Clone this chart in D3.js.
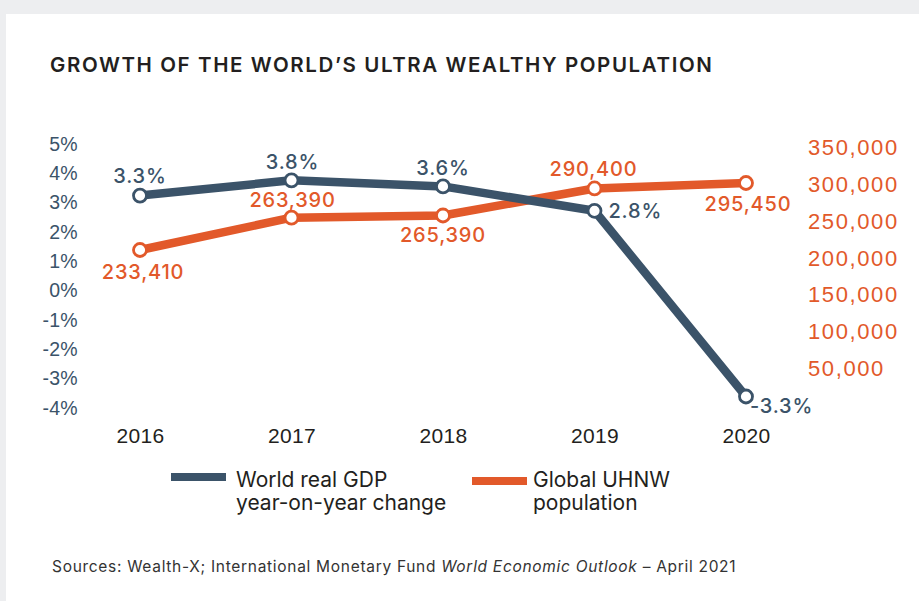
<!DOCTYPE html>
<html>
<head>
<meta charset="utf-8">
<script src="https://cdn.jsdelivr.net/npm/d3@7"></script>
<style>
  body { margin: 0; background: #edeef0; }
  svg { display: block; font-family: Inter, "Noto Sans", sans-serif; }
  .axis path, .axis line { display: none; }
</style>
</head>
<body>
<div id="chart"></div>
<script>
var svgWidth = 919;
var svgHeight = 601;

// data
var years = ["2016", "2017", "2018", "2019", "2020"];
var gdpGrowth = [3.3, 3.8, 3.6, 2.8, -3.3];
var uhnwPopulation = [233410, 263390, 265390, 290400, 295450];
var gdpTicks = [5, 4, 3, 2, 1, 0, -1, -2, -3, -4];
var uhnwTicks = [50000, 100000, 150000, 200000, 250000, 300000, 350000];
var legendNames = [["World real GDP", "year-on-year change"], ["Global UHNW", "population"]];

var slate = "#3b5369";
var orange = "#e2592a";
var ink = "#231f20";

var svg = d3.select("#chart")
    .append("svg")
    .attr("width", svgWidth)
    .attr("height", svgHeight);

svg.append("rect")
    .attr("width", svgWidth).attr("height", svgHeight)
    .attr("fill", "#edeef0");
svg.append("rect")
    .attr("x", 6).attr("y", 14)
    .attr("width", svgWidth - 6).attr("height", svgHeight - 14)
    .attr("fill", "#fff");

svg.append("text")
    .attr("x", 50).attr("y", 65)
    .attr("dy", "0.36em")
    .attr("fill", ink)
    .style("font-size", "20.5px")
    .style("font-weight", 600)
    .style("letter-spacing", "1.6px")
    .text("GROWTH OF THE WORLD\u2019S ULTRA WEALTHY POPULATION");

var x = d3.scalePoint().domain(years).range([140, 746]);

// the axes' tick labels and the plotted lines use slightly different spacing in the original
var yGdpAxis = d3.scaleLinear().domain([-4, 5]).range([407, 143]);
var yUhnwAxis = d3.scaleLinear().domain([0, 350000]).range([404, 147]);
var yGdp = d3.scaleLinear().domain([-4, 5]).range([417.8, 143.8]);
var yUhnw = d3.scaleLinear().domain([200000, 300000]).range([286.1, 178.1]);

var leftAxis = svg.append("g")
    .attr("class", "axis")
    .attr("transform", "translate(78,0)")
    .call(d3.axisLeft(yGdpAxis).tickValues(gdpTicks).tickSize(0).tickPadding(0)
        .tickFormat(d => d + "%"));
leftAxis.selectAll("text")
    .attr("dy", "0.36em")
    .attr("fill", slate)
    .style("font-size", "19.5px")
    .style("font-weight", 300)
    .style("letter-spacing", "0.3px");

var rightAxis = svg.append("g")
    .attr("class", "axis")
    .attr("transform", "translate(808,0)")
    .call(d3.axisRight(yUhnwAxis).tickValues(uhnwTicks).tickSize(0).tickPadding(0)
        .tickFormat(d3.format(",")));
rightAxis.selectAll("text")
    .attr("dy", "0.36em")
    .attr("fill", orange)
    .style("font-size", "22px")
    .style("font-weight", 300)
    .style("letter-spacing", "1.6px");

var bottomAxis = svg.append("g")
    .attr("class", "axis")
    .attr("transform", "translate(0,435)")
    .call(d3.axisBottom(x).tickSize(0).tickPadding(0));
bottomAxis.selectAll("text")
    .attr("y", 0)
    .attr("dy", "0.36em")
    .attr("fill", ink)
    .style("font-size", "21px")
    .style("letter-spacing", "0.3px");

var gdpData = years.map((yr, i) => ({ year: yr, value: gdpGrowth[i] }));
var uhnwData = years.map((yr, i) => ({ year: yr, value: uhnwPopulation[i] }));

function drawSeries(data, yScale, color) {
    var line = d3.line()
        .x(d => x(d.year))
        .y(d => yScale(d.value));
    svg.append("path")
        .datum(data)
        .attr("d", line)
        .attr("fill", "none")
        .attr("stroke", color)
        .attr("stroke-width", 8.5)
        .attr("stroke-linejoin", "round");
    svg.selectAll(null)
        .data(data)
        .enter()
        .append("circle")
        .attr("cx", d => x(d.year))
        .attr("cy", d => yScale(d.value))
        .attr("r", 6.5)
        .attr("fill", "#fff")
        .attr("stroke", color)
        .attr("stroke-width", 2.8);
}

drawSeries(uhnwData, yUhnw, orange);
drawSeries(gdpData, yGdp, slate);

// label placement relative to each point
var gdpPlace = [
    { dx: 0, dy: -20, anchor: "middle" },
    { dx: 1, dy: -19, anchor: "middle" },
    { dx: 0, dy: -19, anchor: "middle" },
    { dx: 14, dy: 0, anchor: "start" },
    { dx: 4, dy: 9, anchor: "start" }
];
var uhnwPlace = [
    { dx: 3, dy: 22, anchor: "middle" },
    { dx: 1, dy: -18, anchor: "middle" },
    { dx: 0, dy: 19, anchor: "middle" },
    { dx: -1, dy: -20, anchor: "middle" },
    { dx: 2, dy: 21, anchor: "middle" }
];

var labelStyle = function (sel) {
    sel.attr("dy", "0.36em")
        .style("font-size", "20px")
        .style("font-weight", 500)
        .style("letter-spacing", "0.8px");
};

svg.selectAll(null)
    .data(gdpData)
    .enter()
    .append("text")
    .attr("x", (d, i) => x(d.year) + gdpPlace[i].dx)
    .attr("y", (d, i) => yGdp(d.value) + gdpPlace[i].dy)
    .attr("text-anchor", (d, i) => gdpPlace[i].anchor)
    .attr("fill", slate)
    .call(labelStyle)
    .text(d => d.value.toFixed(1) + "%");

svg.selectAll(null)
    .data(uhnwData)
    .enter()
    .append("text")
    .attr("x", (d, i) => x(d.year) + uhnwPlace[i].dx)
    .attr("y", (d, i) => yUhnw(d.value) + uhnwPlace[i].dy)
    .attr("text-anchor", (d, i) => uhnwPlace[i].anchor)
    .attr("fill", orange)
    .call(labelStyle)
    .text(d => d3.format(",")(d.value));

// legend
var legendItems = [
    { x: 171, y: 477, tx: 236, color: slate, names: legendNames[0] },
    { x: 472, y: 481, tx: 533, color: orange, names: legendNames[1] }
];
var legend = svg.selectAll("g.legend")
    .data(legendItems)
    .enter()
    .append("g")
    .attr("class", "legend");
legend.append("line")
    .attr("x1", d => d.x).attr("x2", d => d.x + 55)
    .attr("y1", d => d.y).attr("y2", d => d.y)
    .attr("stroke", d => d.color)
    .attr("stroke-width", 8);
legend.append("text")
    .attr("x", d => d.tx)
    .attr("y", 479)
    .attr("fill", ink)
    .style("font-size", "21px")
    .selectAll("tspan")
    .data(d => d.names)
    .enter()
    .append("tspan")
    .attr("x", function () { return d3.select(this.parentNode).attr("x"); })
    .attr("dy", (d, i) => i === 0 ? "0.36em" : "1.12em")
    .text(d => d);

var source = svg.append("text")
    .attr("x", 52).attr("y", 566)
    .attr("dy", "0.36em")
    .attr("fill", "#333")
    .style("font-size", "15.5px")
    .style("letter-spacing", "0.7px");
source.append("tspan").text("Sources: Wealth-X; International Monetary Fund ");
source.append("tspan").style("font-style", "italic").text("World Economic Outlook");
source.append("tspan").text(" \u2013 April 2021");
</script>
</body>
</html>
